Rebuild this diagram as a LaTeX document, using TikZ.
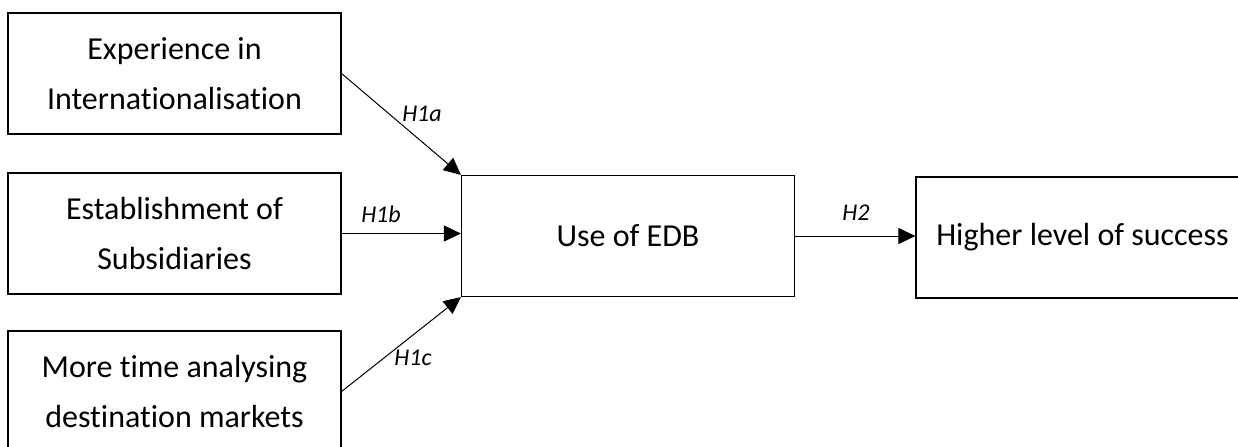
\documentclass[tikz,border=0pt]{standalone}
\usepackage{fontspec}
\setmainfont{Carlito}[Ligatures=NoCommon]
\usetikzlibrary{arrows.meta}
\tikzset{
  factor/.style={draw, line width=0.6pt, minimum width=166.5pt, minimum height=60.5pt, align=center, inner sep=0pt, font=\fontsize{16}{25}\selectfont},
  hyp/.style={font=\fontsize{12}{14}\selectfont\itshape, inner sep=1pt},
  link/.style={line width=0.5pt, -{Triangle[length=8.5pt,width=8pt]}}
}

\begin{document}
\begin{tikzpicture}[x=0.5pt,y=-0.5pt]
		\clip (0,0) rectangle (1238,446);
		\node[factor] (exp) at (174.5,73.5) {Experience in\\Internationalisation};
		\node[factor] (est) at (174.5,233.5) {Establishment of\\Subsidiaries};
		\node[factor] (more) at (174.5,391.5) {More time analysing\\destination markets};
		\node[factor] (edb) at (628,236) {Use of EDB};
		\node[factor] (succ) at (1082.5,237.5) {Higher level of success};
		\draw[link] (exp.east)--(edb.north west);
		\draw[link] (est.east)--(est.east -| edb.west);
		\draw[link] (more.east)--(edb.south west);
		\draw[link] (edb.east)--(edb.east -| succ.west);
		\node[hyp] (h1a) [at= {(422,114)}] {H1a};
		\node[hyp] (h1b) [at= {(381,214)}] {H1b};
		\node[hyp] (h1c) [at= {(413,358)}] {H1c};
		\node[hyp] (h2) [at= {(856,213)}] {H2};
\end{tikzpicture}
\end{document}
